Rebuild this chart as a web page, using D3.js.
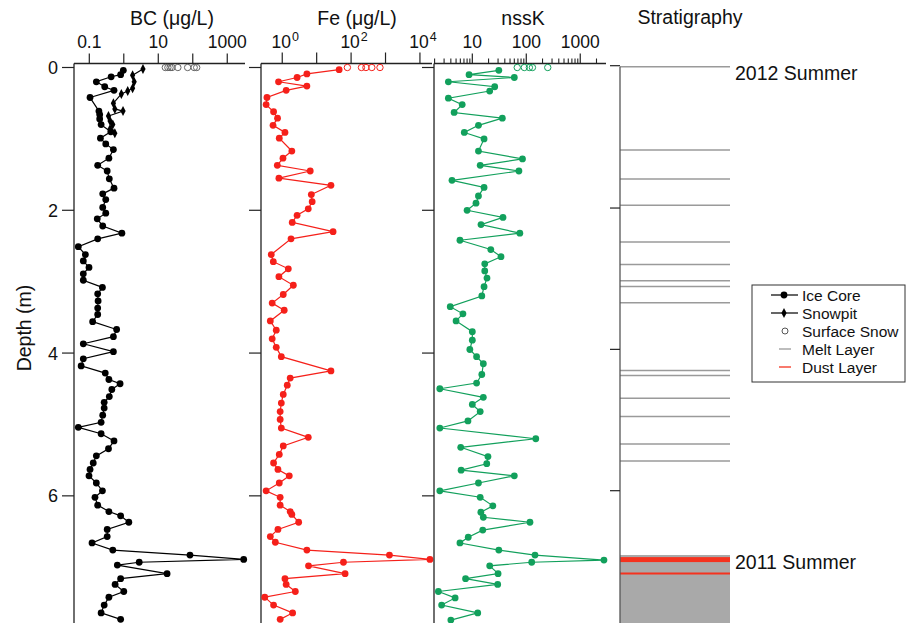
<!DOCTYPE html>
<html>
<head>
<meta charset="utf-8">
<script src="https://cdn.jsdelivr.net/npm/d3@7"></script>
<style>
body { margin: 0; background: #fff; }
text { font-family: "Liberation Sans", Arial, Helvetica, sans-serif; fill: #111; }
</style>
</head>
<body>
<div id="chart"></div>
<script>
// [depth (m), value]
var bcCore = [[0.04,0.97],[0.10,0.81],[0.13,0.43],[0.20,0.16],[0.27,0.28],[0.32,0.52],[0.42,0.105],[0.61,0.19],[0.66,0.20],[0.72,0.20],[0.80,0.22],[0.90,0.42],[0.99,0.21],[1.07,0.30],[1.15,0.50],[1.27,0.37],[1.37,0.175],[1.45,0.33],[1.56,0.38],[1.69,0.52],[1.77,0.245],[1.85,0.30],[1.96,0.245],[2.04,0.30],[2.12,0.17],[2.22,0.245],[2.32,0.88],[2.40,0.175],[2.51,0.048],[2.62,0.077],[2.71,0.067],[2.80,0.098],[2.89,0.067],[2.98,0.067],[3.08,0.24],[3.17,0.175],[3.27,0.18],[3.37,0.175],[3.46,0.175],[3.56,0.125],[3.67,0.62],[3.77,0.50],[3.87,0.067],[3.98,0.50],[4.08,0.067],[4.18,0.058],[4.28,0.29],[4.37,0.37],[4.43,0.78],[4.51,0.45],[4.61,0.38],[4.69,0.27],[4.77,0.27],[4.87,0.245],[4.97,0.22],[5.04,0.048],[5.13,0.22],[5.23,0.52],[5.34,0.36],[5.44,0.16],[5.54,0.13],[5.63,0.105],[5.72,0.098],[5.82,0.16],[5.93,0.24],[6.02,0.146],[6.13,0.175],[6.22,0.37],[6.28,0.81],[6.37,1.4],[6.47,0.33],[6.57,0.33],[6.66,0.12],[6.76,0.48],[6.83,83],[6.89,3000],[6.93,2.8],[6.97,0.65],[7.09,18],[7.16,0.81],[7.24,0.56],[7.34,1.0],[7.42,0.37],[7.53,0.27],[7.64,0.22],[7.73,0.81]];
var bcSnowpit = [[0.02,3.6],[0.11,1.8],[0.20,2.0],[0.29,1.8],[0.33,1.3],[0.37,0.85],[0.50,0.50],[0.58,0.55],[0.61,0.95],[0.68,0.36],[0.75,0.40],[0.80,0.48],[0.86,0.40],[0.92,0.55]];
var bcSurface = [16, 19, 22, 25, 37, 71, 110, 130];

var feCore = [[0.03,45],[0.09,5.2],[0.14,2.7],[0.20,0.78],[0.26,5.2],[0.32,1.3],[0.42,0.36],[0.52,0.34],[0.62,0.56],[0.71,0.73],[0.81,0.54],[0.91,1.2],[0.99,0.82],[1.17,1.9],[1.27,1.05],[1.37,0.72],[1.45,6.5],[1.55,0.8],[1.65,26],[1.78,7],[1.88,7.4],[1.98,5.7],[2.07,2.7],[2.17,1.95],[2.30,30],[2.40,1.8],[2.62,0.48],[2.72,0.55],[2.82,1.5],[2.93,0.8],[3.05,2.1],[3.18,1.07],[3.30,0.51],[3.40,1.14],[3.55,0.45],[3.68,0.67],[3.80,0.51],[3.92,0.67],[4.05,0.94],[4.25,26],[4.35,1.7],[4.45,1.4],[4.58,1.07],[4.70,0.94],[4.82,0.87],[4.93,0.87],[5.05,0.94],[5.18,5.7],[5.30,1.07],[5.42,0.82],[5.54,0.56],[5.63,0.75],[5.72,1.6],[5.82,0.82],[5.93,0.34],[6.02,0.87],[6.13,0.87],[6.22,1.7],[6.26,1.9],[6.37,3.0],[6.47,0.75],[6.57,0.45],[6.65,0.63],[6.76,5.2],[6.83,1300],[6.89,19500],[6.93,60],[6.98,5.8],[7.09,67],[7.16,1.2],[7.24,1.3],[7.34,2.4],[7.42,0.31],[7.53,0.56],[7.64,2.0],[7.73,0.87]];
var feSurface = [78, 200, 270, 400, 690];

var kCore = [[0.04,31],[0.10,8.7],[0.14,60],[0.20,3.6],[0.27,26],[0.33,21],[0.43,3.6],[0.52,6.5],[0.63,4.6],[0.71,36],[0.81,13],[0.91,7.1],[1.00,16.5],[1.17,13],[1.28,85],[1.37,14],[1.45,73],[1.58,4.2],[1.68,16.5],[1.80,13],[1.90,11.7],[2.00,8],[2.10,37],[2.20,14.5],[2.32,76],[2.42,5.9],[2.55,22],[2.65,34],[2.75,17],[2.85,17],[2.95,18.7],[3.07,16.5],[3.20,15],[3.35,3.9],[3.45,6.7],[3.55,5],[3.70,10],[3.82,10],[3.95,9],[4.05,12],[4.15,16],[4.30,15],[4.42,12],[4.50,2.5],[4.62,16],[4.72,10],[4.82,14],[4.95,8.3],[5.05,2.5],[5.20,150],[5.32,6.1],[5.45,19.5],[5.55,18.5],[5.64,6.2],[5.72,60],[5.82,13],[5.93,2.5],[6.02,14],[6.14,24],[6.23,14.4],[6.30,16],[6.37,117],[6.48,15.6],[6.58,8.4],[6.66,5.9],[6.76,31],[6.83,145],[6.90,2750],[6.93,126],[6.98,21],[7.09,30],[7.16,7.5],[7.24,29.5],[7.34,2.35],[7.43,4.8],[7.53,2.7],[7.64,12.6],[7.74,4.0]];
var kSurface = [68, 92, 114, 130, 250];

// stratigraphy (m)
var meltLayers = [0, 1.18, 1.59, 1.96, 2.48, 2.80, 3.03, 3.11, 3.34, 4.30, 4.37, 4.69, 4.95, 5.34, 5.58];
var dustBand = [6.94, 7.01];
var dustLine = 7.17;
var coreTop = 6.91;
var summers = [["2012 Summer", 0.14], ["2011 Summer", 7.06]];

var depthTicks = [0, 2, 4, 6];
var bcTicks = [0.1, 1, 10, 100, 1000];
var bcLabels = ["0.1", "", "10", "", "1000"];
var feTicks = [1, 10, 100, 1000, 10000];
var feLabels = ["0", "", "2", "", "4"];
var kTicks = [10, 100, 1000];

var legendItems = ["Ice Core", "Snowpit", "Surface Snow", "Melt Layer", "Dust Layer"];

var W = 922, H = 623;
var svg = d3.select("#chart").append("svg").attr("width", W).attr("height", H);

var y = d3.scaleLinear().domain([-0.056, 7.76]).range([63.5, 621.5]);
var ys = d3.scaleLinear().domain([0, 6]).range([66.7, 490.7]);

var xBC = d3.scaleLog().domain([0.036, 3270]).range([74, 245]);
var xFe = d3.scaleLog().domain([0.2415, 22400]).range([261, 432]);
var xK = d3.scaleLog().domain([1.95, 3000]).range([434, 606]);

var red = "#f5201a", green = "#12a05c";
var tickFont = "17.5px", titleFont = "19.5px";

function panel(x, ticks, tickSize) {
	var g = svg.append("g");
	// top axis
	g.append("line").attr("x1", x.range()[0]).attr("x2", x.range()[1])
		.attr("y1", 63.5).attr("y2", 63.5).style("stroke", "#222").style("stroke-width", 1.3);
	ticks.forEach(function(t) {
		g.append("line").attr("x1", x(t)).attr("x2", x(t))
			.attr("y1", 63.5).attr("y2", 63.5 - tickSize).style("stroke", "#222").style("stroke-width", 1.2);
	});
	// left axis
	g.append("line").attr("x1", x.range()[0]).attr("x2", x.range()[0])
		.attr("y1", 63.5).attr("y2", H).style("stroke", "#222").style("stroke-width", 1.3);
	depthTicks.forEach(function(d) {
		g.append("line").attr("x1", x.range()[0] - 12).attr("x2", x.range()[0])
			.attr("y1", y(d)).attr("y2", y(d)).style("stroke", "#222").style("stroke-width", 1.2);
	});
	return g;
}

function series(x, data, color) {
	var line = d3.line().x(function(d) { return x(d[1]); }).y(function(d) { return y(d[0]); });
	svg.append("path").datum(data).attr("d", line)
		.style("fill", "none").style("stroke", color).style("stroke-width", 1.2);
	svg.selectAll(null).data(data).enter().append("circle")
		.attr("cx", function(d) { return x(d[1]); })
		.attr("cy", function(d) { return y(d[0]); })
		.attr("r", 3.4).style("fill", color);
}

function surface(x, vals, color) {
	svg.selectAll(null).data(vals).enter().append("circle")
		.attr("cx", function(v) { return x(v); })
		.attr("cy", y(0))
		.attr("r", 3.2).style("fill", "none").style("stroke", color).style("stroke-width", 1);
}

var diamond = "M0,-5L2.6,0L0,5L-2.6,0Z";

//BC panel
panel(xBC, bcTicks, 10);
bcTicks.forEach(function(t, i) {
	svg.append("text").attr("x", xBC(t)).attr("y", 48).attr("text-anchor", "middle")
		.style("font-size", tickFont).text(bcLabels[i]);
});
depthTicks.forEach(function(d) {
	svg.append("text").attr("x", 58).attr("y", y(d) + 6.5).attr("text-anchor", "end")
		.style("font-size", "18px").text(d);
});
svg.append("text").attr("transform", "translate(31," + 328 + ") rotate(-90)")
	.attr("text-anchor", "middle").style("font-size", titleFont).text("Depth (m)");
svg.append("text").attr("x", 172).attr("y", 25).attr("text-anchor", "middle")
	.style("font-size", titleFont).text("BC (\u03bcg/L)");

var spLine = d3.line().x(function(d) { return xBC(d[1]); }).y(function(d) { return y(d[0]); });
svg.append("path").datum(bcSnowpit).attr("d", spLine)
	.style("fill", "none").style("stroke", "#000").style("stroke-width", 1.2);
svg.selectAll(null).data(bcSnowpit).enter().append("path")
	.attr("d", diamond)
	.attr("transform", function(d) { return "translate(" + xBC(d[1]) + "," + y(d[0]) + ")"; })
	.style("fill", "#000");
series(xBC, bcCore, "#000");
surface(xBC, bcSurface, "#666");

//Fe panel
panel(xFe, feTicks, 11);
feTicks.forEach(function(t, i) {
	if (feLabels[i] === "") return;
	var tx = svg.append("text").attr("x", xFe(t) + 3).attr("y", 48).attr("text-anchor", "middle")
		.style("font-size", tickFont);
	tx.append("tspan").text("10");
	tx.append("tspan").attr("dy", -7).attr("dx", 1).style("font-size", "12.5px").text(feLabels[i]);
});
svg.append("text").attr("x", 357).attr("y", 25).attr("text-anchor", "middle")
	.style("font-size", titleFont).text("Fe (\u03bcg/L)");
series(xFe, feCore, red);
surface(xFe, feSurface, red);

//nssK panel
var kMinor = [];
[1, 10, 100, 1000].forEach(function(dec) {
	for (var m = 2; m < 10; m++) {
		var v = dec * m;
		if (v > xK.domain()[0] && v < xK.domain()[1]) kMinor.push(v);
	}
});
panel(xK, kTicks, 10);
kMinor.forEach(function(t) {
	svg.append("line").attr("x1", xK(t)).attr("x2", xK(t))
		.attr("y1", 63.5).attr("y2", 58.5).style("stroke", "#222").style("stroke-width", 1.1);
});
kTicks.forEach(function(t) {
	svg.append("text").attr("x", xK(t)).attr("y", 48).attr("text-anchor", "middle")
		.style("font-size", tickFont).text(t);
});
svg.append("text").attr("x", 523).attr("y", 25).attr("text-anchor", "middle")
	.style("font-size", titleFont).text("nssK");
series(xK, kCore, green);
surface(xK, kSurface, green);

//stratigraphy
var sx0 = 620, sx1 = 730;
svg.append("text").attr("x", 690).attr("y", 24).attr("text-anchor", "middle")
	.style("font-size", titleFont).text("Stratigraphy");
svg.append("rect").attr("x", sx0).attr("y", ys(coreTop)).attr("width", sx1 - sx0)
	.attr("height", H - ys(coreTop)).style("fill", "#a9a9a9");
meltLayers.forEach(function(d) {
	svg.append("line").attr("x1", sx0).attr("x2", sx1).attr("y1", ys(d)).attr("y2", ys(d))
		.style("stroke", "#9a9a9a").style("stroke-width", 1.5);
});
svg.append("rect").attr("x", sx0).attr("y", ys(dustBand[0])).attr("width", sx1 - sx0)
	.attr("height", ys(dustBand[1]) - ys(dustBand[0])).style("fill", "#f5321e");
svg.append("line").attr("x1", sx0).attr("x2", sx1).attr("y1", ys(dustLine)).attr("y2", ys(dustLine))
	.style("stroke", "#f5321e").style("stroke-width", 2);
svg.append("line").attr("x1", sx0).attr("x2", sx0).attr("y1", ys(0)).attr("y2", H)
	.style("stroke", "#555").style("stroke-width", 1.3);
depthTicks.forEach(function(d) {
	svg.append("line").attr("x1", sx0 - 10).attr("x2", sx0).attr("y1", ys(d) - (d === 0 ? 1 : 0)).attr("y2", ys(d) - (d === 0 ? 1 : 0))
		.style("stroke", "#222").style("stroke-width", 1.2);
});
summers.forEach(function(s) {
	svg.append("text").attr("x", 735).attr("y", ys(s[1]) + 3).style("font-size", "19.5px").text(s[0]);
});

//legend
var lg = svg.append("g");
lg.append("rect").attr("x", 752).attr("y", 285).attr("width", 153).attr("height", 97)
	.style("fill", "#fff").style("stroke", "#333").style("stroke-width", 1);
var rowY = [295, 313, 331, 349, 367];
legendItems.forEach(function(name, i) {
	var ry = rowY[i];
	if (i < 2) {
		lg.append("line").attr("x1", 771).attr("x2", 798).attr("y1", ry).attr("y2", ry)
			.style("stroke", "#000").style("stroke-width", 1.2);
		if (i === 0) lg.append("circle").attr("cx", 784).attr("cy", ry).attr("r", 3.4).style("fill", "#000");
		else lg.append("path").attr("d", diamond).attr("transform", "translate(784," + ry + ")").style("fill", "#000");
	} else if (i === 2) {
		lg.append("circle").attr("cx", 785).attr("cy", ry).attr("r", 3).style("fill", "none")
			.style("stroke", "#555").style("stroke-width", 1);
	} else {
		lg.append("line").attr("x1", 779).attr("x2", 791).attr("y1", ry).attr("y2", ry)
			.style("stroke", i === 3 ? "#9a9a9a" : "#f5321e").style("stroke-width", 1.3);
	}
	lg.append("text").attr("x", 802).attr("y", ry + 5.5).style("font-size", "15.5px").text(name);
});
</script>
</body>
</html>
